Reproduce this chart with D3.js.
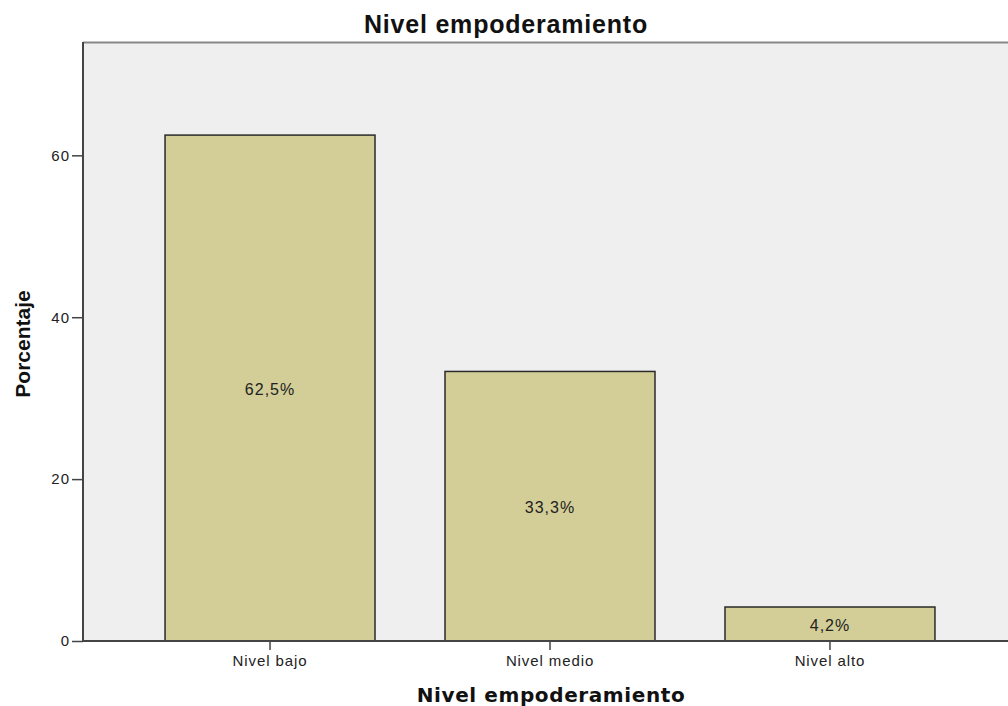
<!DOCTYPE html>
<html><head><meta charset="utf-8">
<script src="https://cdn.jsdelivr.net/npm/d3@7"></script>
<style>body{margin:0;background:#fff;overflow:hidden}</style>
</head><body>
<script>
const categories = ["Nivel bajo", "Nivel medio", "Nivel alto"];
const values = [62.5, 33.3, 4.2];
const valueLabels = ["62,5%", "33,3%", "4,2%"];
const yTicks = [0, 20, 40, 60];
const title = "Nivel empoderamiento";
const xTitle = "Nivel empoderamiento";
const yTitle = "Porcentaje";

const W = 1008, H = 706;
const mLeft = 83, mTop = 42, mBottom = 641, mRight = 1017;
const FONT = "Liberation Sans, Arial, sans-serif";

const svg = d3.select("body").append("svg").attr("width", W).attr("height", H);

const x = d3.scaleBand().domain(categories).range([mLeft, mRight]).paddingInner(0.25).paddingOuter(0.293);
const y = d3.scaleLinear().domain([0, 74]).range([mBottom, mTop]);

svg.append("rect").attr("x", mLeft).attr("y", mTop).attr("width", mRight - mLeft).attr("height", mBottom - mTop)
  .attr("fill", "#efefef");
svg.append("line").attr("x1", mLeft).attr("x2", mRight).attr("y1", mTop + 0.5).attr("y2", mTop + 0.5)
  .attr("stroke", "#888").attr("stroke-width", 2);

svg.selectAll("rect.bar").data(values).enter().append("rect").attr("class", "bar")
  .attr("x", (d, i) => x(categories[i]))
  .attr("y", d => y(d))
  .attr("width", x.bandwidth())
  .attr("height", d => y(0) - y(d))
  .attr("fill", "#d3ce98").attr("stroke", "#2a2a2a").attr("stroke-width", 1.5);

svg.selectAll("text.vl").data(values).enter().append("text").attr("class", "vl")
  .attr("x", (d, i) => x(categories[i]) + x.bandwidth() / 2)
  .attr("y", d => (y(d) + y(0)) / 2)
  .attr("dy", "0.45em").attr("text-anchor", "middle")
  .attr("font-family", FONT).attr("font-size", 16).attr("letter-spacing", 1).attr("fill", "#222")
  .text((d, i) => valueLabels[i]);

const yAxis = svg.append("g").attr("transform", `translate(${mLeft},0)`)
  .call(d3.axisLeft(y).tickValues(yTicks).tickSize(11).tickPadding(2));
yAxis.select(".domain").attr("stroke", "#444").attr("stroke-width", 2).attr("d", `M0,${mTop}V${mBottom}`);
yAxis.selectAll(".tick line").attr("stroke", "#444").attr("stroke-width", 1.5);
yAxis.selectAll("text").attr("font-family", FONT).attr("font-size", 15).attr("letter-spacing", 1).attr("fill", "#222");

const xAxis = svg.append("g").attr("transform", `translate(0,${mBottom})`)
  .call(d3.axisBottom(x).tickSize(9).tickPadding(5));
xAxis.select(".domain").attr("stroke", "#444").attr("stroke-width", 2).attr("d", `M${mLeft},0H${mRight}`);
xAxis.selectAll(".tick line").attr("stroke", "#444").attr("stroke-width", 1.5);
xAxis.selectAll("text").attr("font-family", FONT).attr("font-size", 15).attr("letter-spacing", 0.9).attr("fill", "#222");

svg.append("text").attr("x", 506).attr("y", 33).attr("text-anchor", "middle")
  .attr("font-family", FONT).attr("font-weight", "bold")
  .attr("font-size", 25).attr("letter-spacing", 0.8).attr("fill", "#111").text(title);

svg.append("text").attr("x", 551).attr("y", 702).attr("text-anchor", "middle")
  .attr("font-family", "DejaVu Sans, Verdana, sans-serif").attr("font-weight", "bold")
  .attr("font-size", 20).attr("letter-spacing", 0.6).attr("fill", "#111").text(xTitle);

svg.append("text").attr("transform", `translate(30,344) rotate(-90)`).attr("text-anchor", "middle")
  .attr("font-family", FONT).attr("font-weight", "bold")
  .attr("font-size", 21).attr("fill", "#111").text(yTitle);
</script>
</body></html>
